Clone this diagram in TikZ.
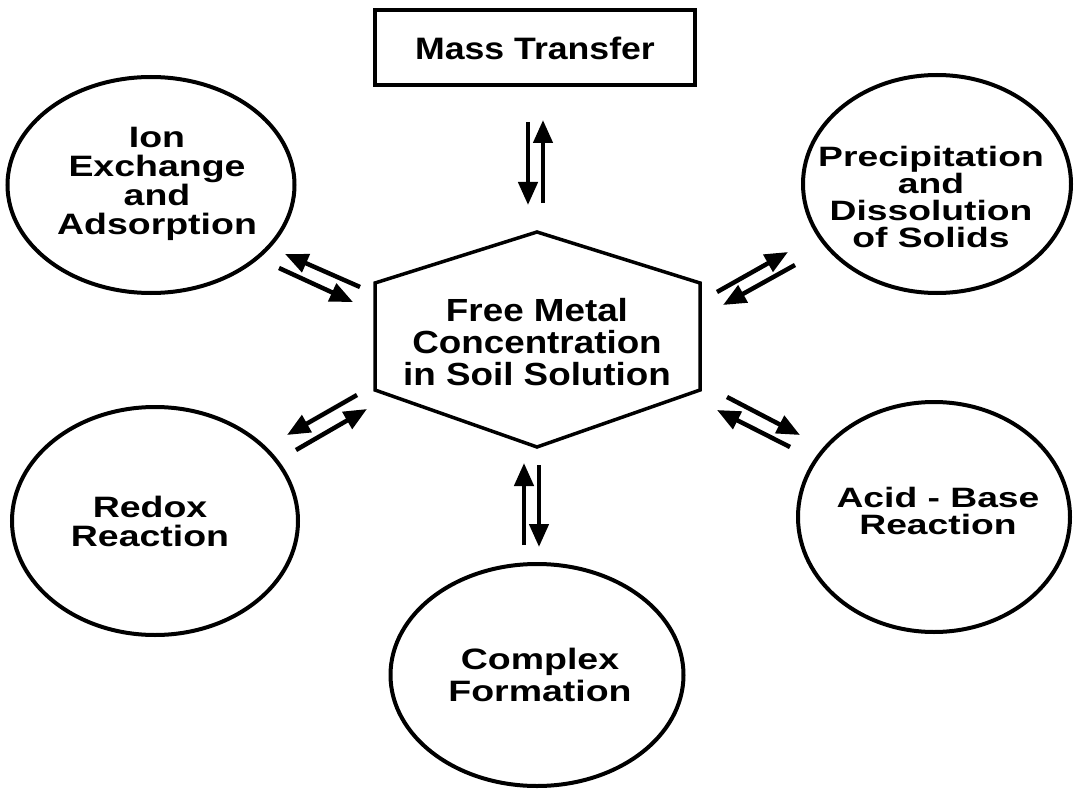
\documentclass[tikz,border=0pt]{standalone}
\usepackage{fontspec}
\setmainfont{Liberation Sans}
\newfontfamily\ellfont{Liberation Sans}[FakeStretch=1.27]
\newfontfamily\narfont{Liberation Sans}[FakeStretch=1.33]
\newfontfamily\hexfont{Liberation Sans}[FakeStretch=1.15]
\usetikzlibrary{arrows.meta,shapes.geometric}
\tikzset{
  bubble/.style={ellipse,draw=black,line width=4pt,inner sep=0pt},
  lbl/.style={align=center,inner sep=0pt,font=\ellfont\bfseries\fontsize{29.5}{29}\selectfont},
  tightlbl/.style={align=center,inner sep=0pt,font=\narfont\bfseries\fontsize{28}{27.3}\selectfont},
  hexlbl/.style={align=center,inner sep=0pt,font=\hexfont\bfseries\fontsize{32}{32}\selectfont},
  flow/.style={line width=4.5pt,-{Triangle[length=23pt,width=19pt]}},
}
\begin{document}
\begin{tikzpicture}[x=1pt,y=-1pt]
\useasboundingbox (0,0) rectangle (1074,789);
% box
\node[draw=black,line width=3.5pt,minimum width=320pt,minimum height=75pt,inner sep=0pt] (mass) at (535,47.5) {};
\node[hexlbl,font=\hexfont\bfseries\fontsize{31}{31}\selectfont] (massT) at (535,48) {Mass Transfer};
% hexagon
\coordinate (hT) at (537,232);
\coordinate (hUR) at (700,283);
\coordinate (hLR) at (700,390);
\coordinate (hB) at (537,447);
\coordinate (hLL) at (375,390);
\coordinate (hUL) at (375,283);
\draw[line width=3.5pt,line join=miter] (hT) -- (hUR) -- (hLR) -- (hB) -- (hLL) -- (hUL) -- cycle;
\node[hexlbl] (hexT) at (537,342) {Free Metal\\Concentration\\in Soil Solution};
% ellipses
\node[bubble,minimum width=287pt,minimum height=216pt] (ion) at (151,185) {};
\node[lbl] (ionT) at (157,184) {Ion\\Exchange\\and\\Adsorption};
\node[bubble,minimum width=268pt,minimum height=218pt] (prec) at (937,184) {};
\node[tightlbl] (precT) at (931,197) {Precipitation\\and\\Dissolution\\of Solids};
\node[bubble,minimum width=286pt,minimum height=228pt] (redox) at (155,521) {};
\node[lbl] (redoxT) at (150,521) {Redox\\Reaction};
\node[bubble,minimum width=272pt,minimum height=230pt] (acid) at (934,517) {};
\node[tightlbl] (acidT) at (938,511) {Acid - Base\\Reaction};
\node[bubble,minimum width=293pt,minimum height=222pt] (cplx) at (537,675) {};
\node[lbl,font=\ellfont\bfseries\fontsize{29.5}{32}\selectfont] (cplxT) at (540,675) {Complex\\Formation};
% arrow end points
\coordinate (t1a) at (528,122); \coordinate (t1b) at (528,205);
\coordinate (t2a) at (543,203); \coordinate (t2b) at (543,120);
\coordinate (b1a) at (524,545); \coordinate (b1b) at (524,463);
\coordinate (b2a) at (539,465); \coordinate (b2b) at (539,547);
\coordinate (ul1a) at (360,287); \coordinate (ul1b) at (285,254);
\coordinate (ul2a) at (279,268); \coordinate (ul2b) at (353,302);
\coordinate (ur1a) at (717,292); \coordinate (ur1b) at (788,252);
\coordinate (ur2a) at (795,265); \coordinate (ur2b) at (723,305);
\coordinate (ll1a) at (357,395); \coordinate (ll1b) at (287,435);
\coordinate (ll2a) at (296,450); \coordinate (ll2b) at (367,409);
\coordinate (lr1a) at (727,397); \coordinate (lr1b) at (800,435);
\coordinate (lr2a) at (790,447); \coordinate (lr2b) at (717,410);
\draw[flow] (t1a) -- (t1b);
\draw[flow] (t2a) -- (t2b);
\draw[flow] (b1a) -- (b1b);
\draw[flow] (b2a) -- (b2b);
\draw[flow] (ul1a) -- (ul1b);
\draw[flow] (ul2a) -- (ul2b);
\draw[flow] (ur1a) -- (ur1b);
\draw[flow] (ur2a) -- (ur2b);
\draw[flow] (ll1a) -- (ll1b);
\draw[flow] (ll2a) -- (ll2b);
\draw[flow] (lr1a) -- (lr1b);
\draw[flow] (lr2a) -- (lr2b);
\end{tikzpicture}
\end{document}
